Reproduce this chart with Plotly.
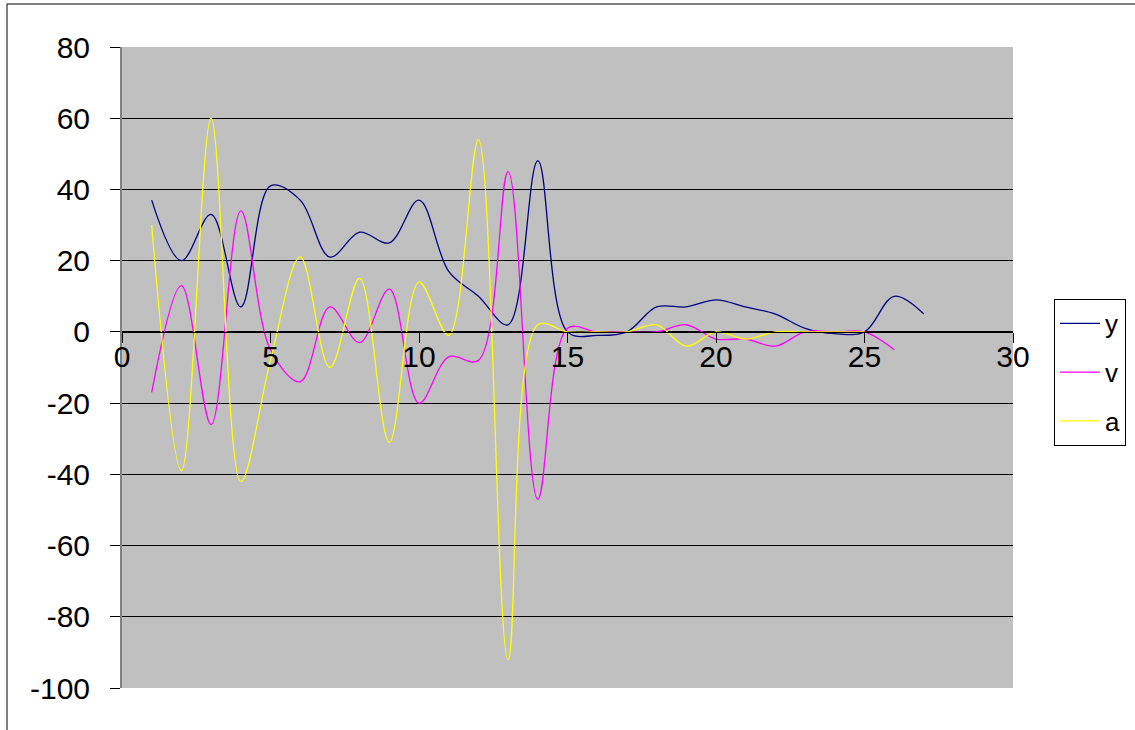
import plotly.graph_objects as go

x_y = list(range(1, 28))
y_vals = [37, 20, 33, 7, 41, 37, 21, 28, 25, 37, 17, 10, 2, 48, 0, -1, 0, 7, 7, 9, 7, 5, 1, -0.5, 0, 10, 5]

x_v = list(range(1, 27))
v_vals = [-17, 13, -26, 34, -5, -14, 7, -3, 12, -20, -7, -8, 45, -47, 1, 0, 0, 0, 2, -2, -2, -4, 0, 0, 0, -5]

x_a = list(range(1, 26))
a_vals = [30, -39, 60, -42, -8, 21, -10, 15, -31, 14, -1, 54, -92, 2, 0, 0, 0, 2, -4, 0, -2, 0, 0, 0, 0]

series = [("y", x_y, y_vals, "#000080"),
          ("v", x_v, v_vals, "#FF00FF"),
          ("a", x_a, a_vals, "#FFFF00")]

x_ticks = [0, 5, 10, 15, 20, 25, 30]
y_ticks = [-100, -80, -60, -40, -20, 0, 20, 40, 60, 80]

font_family = "Arial, Liberation Sans, sans-serif"

fig = go.Figure()
for name, xs, ys, col in series:
    fig.add_trace(go.Scatter(x=xs, y=ys, name=name, mode="lines",
                             line=dict(color=col, width=1.3, shape="spline", smoothing=1),
                             legendgroup=name))

fig.update_layout(
    width=1135, height=730,
    margin=dict(l=122, r=122, t=47, b=42, autoexpand=False),
    paper_bgcolor="white",
    plot_bgcolor="#C0C0C0",
    font=dict(family=font_family, size=30, color="black"),
    showlegend=True,
    legend=dict(x=1.046, y=0.607, xanchor="left", yanchor="top",
                bordercolor="black", borderwidth=1, bgcolor="white",
                font=dict(size=26, family=font_family),
                tracegroupgap=12, itemwidth=40),
    xaxis=dict(range=[0, 30], tickvals=x_ticks, ticktext=[str(t) for t in x_ticks],
               showgrid=False, zeroline=False,
               showline=True, linecolor="black", linewidth=1,
               ticks="outside", ticklen=10, tickcolor="black",
               anchor="free", position=100 / 180,
               tickfont=dict(size=30), ticklabelstandoff=-12),
    yaxis=dict(range=[-100, 80], tickvals=y_ticks, ticktext=[str(t) for t in y_ticks],
               showgrid=True, gridcolor="black", gridwidth=1,
               zeroline=False, showline=True, linecolor="#808080", linewidth=2,
               ticks="outside", ticklen=10, tickcolor="black",
               tickfont=dict(size=30), ticklabelstandoff=14, domain=[0, 1]),
    shapes=[dict(type="rect", xref="paper", yref="paper",
                 x0=(7 - 122) / 891, x1=1.5, y0=-0.5, y1=(688 - 4) / 641,
                 line=dict(color="black", width=1), fillcolor="rgba(0,0,0,0)",
                 layer="below")],
)

fig.write_html("out.html", config={"displayModeBar": False},
               post_script="document.body.style.margin='0';document.body.style.overflow='hidden';")
